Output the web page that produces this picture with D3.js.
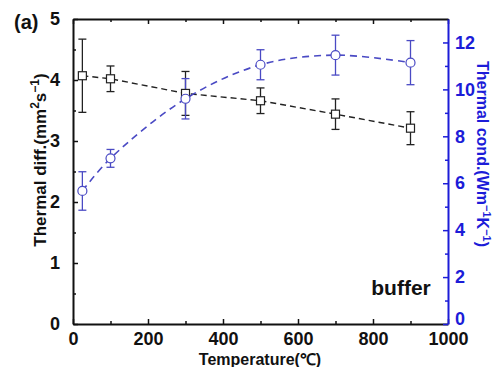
<!DOCTYPE html>
<html>
<head>
<meta charset="utf-8">
<script src="https://cdn.jsdelivr.net/npm/d3@7"></script>
<style>
  body { margin: 0; background: #fff; }
  svg text { font-family: "Liberation Sans", Arial, sans-serif; font-weight: bold; }
</style>
</head>
<body>
<svg id="chart" width="497" height="367"></svg>
<script>
// temperatures (degC)
const temps = [25, 100, 300, 500, 700, 900]
// thermal diffusivity (mm^2/s) and error
const diff    = [4.07, 4.02, 3.78, 3.66, 3.44, 3.21]
const diffErr = [0.60, 0.21, 0.36, 0.21, 0.25, 0.27]
// thermal conductivity (W/mK) and error
const cond    = [5.67, 7.06, 9.6, 11.05, 11.46, 11.14]
const condErr = [0.82, 0.38, 0.86, 0.64, 0.85, 0.94]

const xTicks = [0, 200, 400, 600, 800, 1000]
const yTicks = [0, 1, 2, 3, 4, 5]
const y2Ticks = [0, 2, 4, 6, 8, 10, 12]

const blue = "#1c1cd8"
const blueMark = "#4a4ac4"

const svg = d3.select("#chart")
const mLeft = 73, mRight = 448, mTop = 19, mBottom = 324

const x  = d3.scaleLinear().domain([0, 1000]).range([mLeft, mRight])
const y  = d3.scaleLinear().domain([0, 5]).range([mBottom, mTop])
const y2 = d3.scaleLinear().domain([0, 13]).range([mBottom, mTop])

const fmt = d3.format("d")

// axes, ticks pointing inward
function styleAxis(g, color) {
  g.select(".domain").attr("stroke", color).attr("stroke-width", 2)
  g.selectAll(".tick line").attr("stroke", color).attr("stroke-width", 1.5)
  g.selectAll(".tick text").attr("fill", color).attr("font-size", 18)
}

// minor ticks
const xMinor = d3.range(100, 1000, 200)
const yMinor = d3.range(0.5, 5, 1)
const y2Minor = d3.range(1, 13, 2)

svg.append("g").attr("transform", `translate(0,${mBottom})`)
  .call(d3.axisBottom(x).tickValues(xTicks).tickFormat(fmt).tickSizeInner(-5).tickSizeOuter(0).tickPadding(8))
  .call(g => styleAxis(g, "#111"))
svg.append("g").attr("transform", `translate(0,${mBottom})`)
  .call(d3.axisBottom(x).tickValues(xMinor).tickSize(-3).tickFormat(""))
  .call(g => { g.select(".domain").remove(); styleAxis(g, "#111") })

svg.append("g").attr("transform", `translate(0,${mTop})`)
  .call(d3.axisTop(x).tickValues(xTicks).tickSizeInner(-5).tickSizeOuter(0).tickFormat(""))
  .call(g => styleAxis(g, "#111"))
svg.append("g").attr("transform", `translate(0,${mTop})`)
  .call(d3.axisTop(x).tickValues(xMinor).tickSize(-3).tickFormat(""))
  .call(g => { g.select(".domain").remove(); styleAxis(g, "#111") })

svg.append("g").attr("transform", `translate(${mLeft},0)`)
  .call(d3.axisLeft(y).tickValues(yTicks).tickFormat(fmt).tickSizeInner(-5).tickSizeOuter(0).tickPadding(13))
  .call(g => styleAxis(g, "#111"))
svg.append("g").attr("transform", `translate(${mLeft},0)`)
  .call(d3.axisLeft(y).tickValues(yMinor).tickSize(-3).tickFormat(""))
  .call(g => { g.select(".domain").remove(); styleAxis(g, "#111") })

svg.append("g").attr("transform", `translate(${mRight},0)`)
  .call(d3.axisRight(y2).tickValues(y2Ticks).tickFormat(fmt).tickSizeInner(-5).tickSizeOuter(0).tickPadding(7))
  .call(g => styleAxis(g, blue))
  .call(g => g.selectAll(".tick text").filter(d => d === 0).attr("dy", "0"))
svg.append("g").attr("transform", `translate(${mRight},0)`)
  .call(d3.axisRight(y2).tickValues(y2Minor).tickSize(-3).tickFormat(""))
  .call(g => { g.select(".domain").remove(); styleAxis(g, blue) })

// lines
const diffLine = d3.line().x((d, i) => x(temps[i])).y(d => y(d))
svg.append("path").datum(diff)
  .attr("d", diffLine)
  .attr("fill", "none").attr("stroke", "#222").attr("stroke-width", 1.4)
  .attr("stroke-dasharray", "6,4")

const condLine = d3.line().curve(d3.curveCatmullRom.alpha(0.5))
  .x((d, i) => x(temps[i])).y(d => y2(d))
svg.append("path").datum(cond)
  .attr("d", condLine)
  .attr("fill", "none").attr("stroke", blueMark).attr("stroke-width", 1.6)
  .attr("stroke-dasharray", "7,5")

// error bars
function errBars(vals, errs, scale, color) {
  const g = svg.append("g").attr("stroke", color).attr("stroke-width", 1.3)
  vals.forEach((v, i) => {
    const cx = x(temps[i])
    g.append("line").attr("x1", cx).attr("x2", cx)
      .attr("y1", scale(v - errs[i])).attr("y2", scale(v + errs[i]))
    g.append("line").attr("x1", cx - 4).attr("x2", cx + 4)
      .attr("y1", scale(v - errs[i])).attr("y2", scale(v - errs[i]))
    g.append("line").attr("x1", cx - 4).attr("x2", cx + 4)
      .attr("y1", scale(v + errs[i])).attr("y2", scale(v + errs[i]))
  })
}
errBars(diff, diffErr, y, "#222")
errBars(cond, condErr, y2, blueMark)

// markers
svg.append("g").selectAll("rect").data(diff).join("rect")
  .attr("x", (d, i) => x(temps[i]) - 4).attr("y", d => y(d) - 4)
  .attr("width", 8).attr("height", 8)
  .attr("fill", "#fff").attr("stroke", "#222").attr("stroke-width", 1.2)

svg.append("g").selectAll("circle").data(cond).join("circle")
  .attr("cx", (d, i) => x(temps[i])).attr("cy", d => y2(d)).attr("r", 4.5)
  .attr("fill", "#fff").attr("stroke", blueMark).attr("stroke-width", 1.2)

// labels
svg.append("text").attr("x", 14).attr("y", 29).attr("font-size", 20).attr("fill", "#111").text("(a)")

svg.append("text").attr("x", 401).attr("y", 295).attr("font-size", 21)
  .attr("text-anchor", "middle").attr("fill", "#111").text("buffer")

svg.append("text").attr("x", 260).attr("y", 365).attr("font-size", 16)
  .attr("text-anchor", "middle").attr("fill", "#111").text("Temperature(℃)")

const yl = svg.append("text").attr("transform", `translate(46,160) rotate(-90)`)
  .attr("font-size", 17).attr("text-anchor", "middle").attr("fill", "#111")
yl.append("tspan").text("Thermal diff.(mm")
yl.append("tspan").attr("dy", -7).attr("font-size", 12).text("2")
yl.append("tspan").attr("dy", 7).text("s")
yl.append("tspan").attr("dy", -7).attr("font-size", 12).text("−1")
yl.append("tspan").attr("dy", 7).text(")")

const yr = svg.append("text").attr("transform", `translate(477,154) rotate(90)`)
  .attr("font-size", 16).attr("text-anchor", "middle").attr("fill", blue)
yr.append("tspan").text("Thermal cond.(Wm")
yr.append("tspan").attr("dy", -6).attr("font-size", 11).text("−1")
yr.append("tspan").attr("dy", 6).text("K")
yr.append("tspan").attr("dy", -6).attr("font-size", 11).text("−1")
yr.append("tspan").attr("dy", 6).text(")")
</script>
</body>
</html>
